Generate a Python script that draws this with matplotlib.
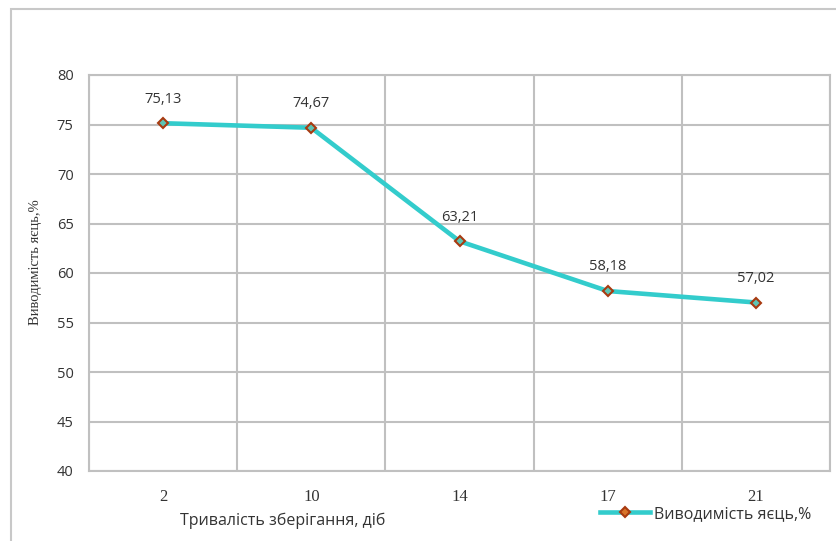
import matplotlib.pyplot as plt
import numpy as np
from matplotlib.patches import Rectangle
from matplotlib.lines import Line2D

# Дані
days = ["2", "10", "14", "17", "21"]
hatchability = [75.13, 74.67, 63.21, 58.18, 57.02]

line_color = "#33cccc"
edge_color = "#a83a10"
face_color = "#5cc4b4"

fig = plt.figure(figsize=(8.36, 5.41), dpi=100)
# рамка навколо діаграми
fig.patches.append(Rectangle((11 / 836, -0.1), 1.2, 1 - 9 / 541 + 0.1, transform=fig.transFigure,
                             fill=False, edgecolor="#c8c8c8", linewidth=1.5))

ax = fig.add_axes([89 / 836, 1 - 471 / 541, (830 - 89) / 836, (471 - 75) / 541])
x = np.arange(len(days))
ax.plot(x, hatchability, color=line_color, linewidth=3.3, solid_joinstyle="round", zorder=3,
        marker="D", markersize=5.5, markerfacecolor=face_color, markeredgecolor=edge_color,
        markeredgewidth=1.5)

for xi, v in zip(x, hatchability):
    ax.annotate(f"{v:.2f}".replace(".", ","), (xi, v), xytext=(0, 12), textcoords="offset points",
                ha="center", va="bottom", fontsize=10.5, family="Open Sans", color="#333333")

ax.set_xlim(-0.5, len(days) - 0.5)
ax.set_ylim(40, 80)
ax.set_yticks(range(40, 81, 5))
ax.set_xticks(x)
ax.set_xticklabels(days, family="Liberation Serif", fontsize=12)
ax.set_xticks(np.arange(-0.5, len(days), 1), minor=True)
for lbl in ax.get_yticklabels():
    lbl.set_family("Open Sans")
    lbl.set_fontsize(10.5)
ax.tick_params(axis="both", which="both", length=0, colors="#333333")
ax.tick_params(axis="x", pad=13)
ax.tick_params(axis="y", pad=11)
ax.grid(True, which="minor", axis="x", color="#c0c0c0", linewidth=1.5)
ax.grid(True, which="major", axis="y", color="#c0c0c0", linewidth=1.5)
ax.grid(False, which="major", axis="x")
for s in ax.spines.values():
    s.set_color("#c0c0c0")
    s.set_linewidth(1.5)

fig.text(35 / 836, 1 - 262 / 541, "Виводимість яєць,%", rotation=90, ha="center", va="center",
         family="Liberation Serif", fontsize=10.5, color="#333333")
fig.text(180 / 836, 1 - 521 / 541, "Тривалість зберігання, діб", ha="left", va="center",
         family="Open Sans", fontsize=11.5, color="#333333")

# Легенда
handle = Line2D([], [], color=line_color, linewidth=3.3, marker="D", markersize=5.5,
                markerfacecolor="#d8742a", markeredgecolor=edge_color, markeredgewidth=1.5)
fig.legend([handle], ["Виводимість яєць,%"], loc="center left", bbox_to_anchor=(600 / 836, 1 - 514 / 541),
           frameon=False, prop={"family": "Open Sans", "size": 11.5}, handlelength=3.1, handletextpad=0.3,
           borderpad=0, borderaxespad=0, labelcolor="#333333")

fig.savefig("out.png", dpi=100)
